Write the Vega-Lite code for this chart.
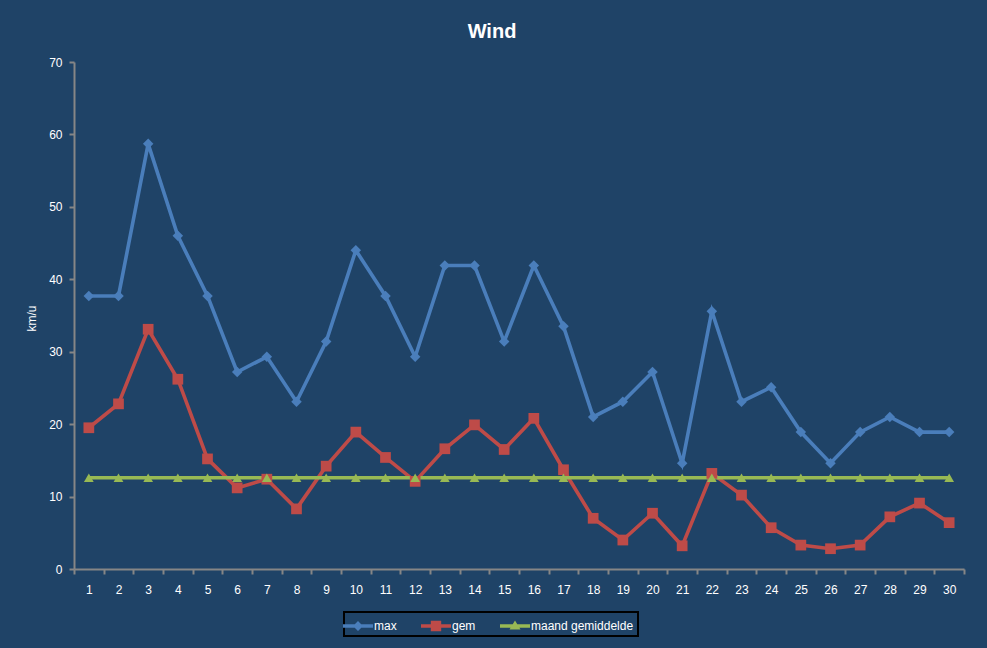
{
  "$schema": "https://vega.github.io/schema/vega-lite/v6.json",
  "width": 890,
  "height": 507,
  "autosize": {"type": "none"},
  "padding": {"left": 74, "top": 62, "right": 23, "bottom": 79},
  "background": "#1F4367",
  "title": {
    "text": "Wind",
    "color": "#FFFFFF",
    "font": "Liberation Sans",
    "fontSize": 20,
    "fontWeight": "bold",
    "anchor": "middle",
    "dx": -27,
    "offset": 14
  },
  "config": {
    "view": {"stroke": null},
    "axis": {
      "labelFont": "Liberation Sans",
      "labelFontSize": 12,
      "labelColor": "#FFFFFF",
      "domainColor": "#868686",
      "domainWidth": 2,
      "tickColor": "#868686",
      "tickWidth": 2,
      "grid": false,
      "titleColor": "#FFFFFF",
      "titleFont": "Liberation Sans",
      "titleFontSize": 12,
      "titleFontWeight": "normal"
    }
  },
  "data": {
    "values": [
      {"dag": 1, "reeks": "max", "kmu": 37.7},
      {"dag": 2, "reeks": "max", "kmu": 37.7},
      {"dag": 3, "reeks": "max", "kmu": 58.7},
      {"dag": 4, "reeks": "max", "kmu": 46.0},
      {"dag": 5, "reeks": "max", "kmu": 37.7},
      {"dag": 6, "reeks": "max", "kmu": 27.2},
      {"dag": 7, "reeks": "max", "kmu": 29.3},
      {"dag": 8, "reeks": "max", "kmu": 23.1},
      {"dag": 9, "reeks": "max", "kmu": 31.4},
      {"dag": 10, "reeks": "max", "kmu": 44.0},
      {"dag": 11, "reeks": "max", "kmu": 37.7},
      {"dag": 12, "reeks": "max", "kmu": 29.3},
      {"dag": 13, "reeks": "max", "kmu": 41.9},
      {"dag": 14, "reeks": "max", "kmu": 41.9},
      {"dag": 15, "reeks": "max", "kmu": 31.4},
      {"dag": 16, "reeks": "max", "kmu": 41.9},
      {"dag": 17, "reeks": "max", "kmu": 33.5},
      {"dag": 18, "reeks": "max", "kmu": 21.0},
      {"dag": 19, "reeks": "max", "kmu": 23.1},
      {"dag": 20, "reeks": "max", "kmu": 27.2},
      {"dag": 21, "reeks": "max", "kmu": 14.6},
      {"dag": 22, "reeks": "max", "kmu": 35.6},
      {"dag": 23, "reeks": "max", "kmu": 23.1},
      {"dag": 24, "reeks": "max", "kmu": 25.1},
      {"dag": 25, "reeks": "max", "kmu": 18.9},
      {"dag": 26, "reeks": "max", "kmu": 14.6},
      {"dag": 27, "reeks": "max", "kmu": 18.9},
      {"dag": 28, "reeks": "max", "kmu": 21.0},
      {"dag": 29, "reeks": "max", "kmu": 18.9},
      {"dag": 30, "reeks": "max", "kmu": 18.9},
      {"dag": 1, "reeks": "gem", "kmu": 19.5},
      {"dag": 2, "reeks": "gem", "kmu": 22.8},
      {"dag": 3, "reeks": "gem", "kmu": 33.1},
      {"dag": 4, "reeks": "gem", "kmu": 26.2},
      {"dag": 5, "reeks": "gem", "kmu": 15.2},
      {"dag": 6, "reeks": "gem", "kmu": 11.2},
      {"dag": 7, "reeks": "gem", "kmu": 12.4},
      {"dag": 8, "reeks": "gem", "kmu": 8.3},
      {"dag": 9, "reeks": "gem", "kmu": 14.2},
      {"dag": 10, "reeks": "gem", "kmu": 18.9},
      {"dag": 11, "reeks": "gem", "kmu": 15.4},
      {"dag": 12, "reeks": "gem", "kmu": 12.1},
      {"dag": 13, "reeks": "gem", "kmu": 16.6},
      {"dag": 14, "reeks": "gem", "kmu": 19.9},
      {"dag": 15, "reeks": "gem", "kmu": 16.5},
      {"dag": 16, "reeks": "gem", "kmu": 20.8},
      {"dag": 17, "reeks": "gem", "kmu": 13.7},
      {"dag": 18, "reeks": "gem", "kmu": 7.0},
      {"dag": 19, "reeks": "gem", "kmu": 4.0},
      {"dag": 20, "reeks": "gem", "kmu": 7.7},
      {"dag": 21, "reeks": "gem", "kmu": 3.2},
      {"dag": 22, "reeks": "gem", "kmu": 13.2},
      {"dag": 23, "reeks": "gem", "kmu": 10.2},
      {"dag": 24, "reeks": "gem", "kmu": 5.7},
      {"dag": 25, "reeks": "gem", "kmu": 3.3},
      {"dag": 26, "reeks": "gem", "kmu": 2.8},
      {"dag": 27, "reeks": "gem", "kmu": 3.3},
      {"dag": 28, "reeks": "gem", "kmu": 7.2},
      {"dag": 29, "reeks": "gem", "kmu": 9.1},
      {"dag": 30, "reeks": "gem", "kmu": 6.4},
      {"dag": 1, "reeks": "maand gemiddelde", "kmu": 12.6},
      {"dag": 2, "reeks": "maand gemiddelde", "kmu": 12.6},
      {"dag": 3, "reeks": "maand gemiddelde", "kmu": 12.6},
      {"dag": 4, "reeks": "maand gemiddelde", "kmu": 12.6},
      {"dag": 5, "reeks": "maand gemiddelde", "kmu": 12.6},
      {"dag": 6, "reeks": "maand gemiddelde", "kmu": 12.6},
      {"dag": 7, "reeks": "maand gemiddelde", "kmu": 12.6},
      {"dag": 8, "reeks": "maand gemiddelde", "kmu": 12.6},
      {"dag": 9, "reeks": "maand gemiddelde", "kmu": 12.6},
      {"dag": 10, "reeks": "maand gemiddelde", "kmu": 12.6},
      {"dag": 11, "reeks": "maand gemiddelde", "kmu": 12.6},
      {"dag": 12, "reeks": "maand gemiddelde", "kmu": 12.6},
      {"dag": 13, "reeks": "maand gemiddelde", "kmu": 12.6},
      {"dag": 14, "reeks": "maand gemiddelde", "kmu": 12.6},
      {"dag": 15, "reeks": "maand gemiddelde", "kmu": 12.6},
      {"dag": 16, "reeks": "maand gemiddelde", "kmu": 12.6},
      {"dag": 17, "reeks": "maand gemiddelde", "kmu": 12.6},
      {"dag": 18, "reeks": "maand gemiddelde", "kmu": 12.6},
      {"dag": 19, "reeks": "maand gemiddelde", "kmu": 12.6},
      {"dag": 20, "reeks": "maand gemiddelde", "kmu": 12.6},
      {"dag": 21, "reeks": "maand gemiddelde", "kmu": 12.6},
      {"dag": 22, "reeks": "maand gemiddelde", "kmu": 12.6},
      {"dag": 23, "reeks": "maand gemiddelde", "kmu": 12.6},
      {"dag": 24, "reeks": "maand gemiddelde", "kmu": 12.6},
      {"dag": 25, "reeks": "maand gemiddelde", "kmu": 12.6},
      {"dag": 26, "reeks": "maand gemiddelde", "kmu": 12.6},
      {"dag": 27, "reeks": "maand gemiddelde", "kmu": 12.6},
      {"dag": 28, "reeks": "maand gemiddelde", "kmu": 12.6},
      {"dag": 29, "reeks": "maand gemiddelde", "kmu": 12.6},
      {"dag": 30, "reeks": "maand gemiddelde", "kmu": 12.6}
    ]
  },
  "resolve": {"axis": {"x": "independent"}},
  "layer": [
    {
      "mark": {"type": "line", "strokeWidth": 3.6},
      "encoding": {
        "x": {
          "field": "dag",
          "type": "quantitative",
          "scale": {"domain": [0.5, 30.5], "nice": false, "zero": false},
          "axis": {
            "orient": "bottom",
            "title": null,
            "values": [1, 2, 3, 4, 5, 6, 7, 8, 9, 10, 11, 12, 13, 14, 15, 16, 17, 18, 19, 20, 21, 22, 23, 24, 25, 26, 27, 28, 29, 30],
            "ticks": false,
            "labelPadding": 15,
            "labelFlush": false,
            "labelOverlap": false
          }
        },
        "y": {
          "field": "kmu",
          "type": "quantitative",
          "scale": {"domain": [0, 70], "nice": false},
          "axis": {
            "title": "km/u",
            "values": [0, 10, 20, 30, 40, 50, 60, 70],
            "tickSize": 5,
            "labelPadding": 7,
            "titleX": -43,
            "titleY": 256,
            "titleBaseline": "middle"
          }
        },
        "color": {
          "field": "reeks",
          "type": "nominal",
          "scale": {
            "domain": ["max", "gem", "maand gemiddelde"],
            "range": ["#4A7EBB", "#BE4B48", "#98B954"]
          },
          "legend": {
            "orient": "none",
            "legendX": 270,
            "legendY": 550,
            "direction": "horizontal",
            "title": null,
            "strokeColor": "#000000",
            "padding": 4,
            "labelColor": "#FFFFFF",
            "labelFont": "Liberation Sans",
            "labelFontSize": 12,
            "symbolSize": 400,
            "labelOffset": 6,
            "columnPadding": 24,
            "encode": {
              "legend": {"update": {"strokeWidth": {"value": 2}}},
              "symbols": {
                "update": {
                  "shape": {
                    "signal": "datum.value === 'max' ? 'M-1.5,-0.18L1.5,-0.18L1.5,0.18L-1.5,0.18Z M0,-0.5L0.5,0L0,0.5L-0.5,0Z' : datum.value === 'gem' ? 'M-1.5,-0.18L1.5,-0.18L1.5,0.18L-1.5,0.18Z M-0.52,-0.52L0.52,-0.52L0.52,0.52L-0.52,0.52Z' : 'M-1.5,-0.18L1.5,-0.18L1.5,0.18L-1.5,0.18Z M0,-0.55L0.55,0.35L-0.55,0.35Z'"
                  },
                  "fill": {"scale": "color", "field": "value"},
                  "strokeWidth": {"value": 0}
                }
              }
            }
          }
        }
      }
    },
    {
      "transform": [{"filter": "datum.reeks === 'max'"}],
      "mark": {"type": "point", "shape": "diamond", "filled": true, "opacity": 1, "size": 110, "color": "#4A7EBB"},
      "encoding": {
        "x": {
          "field": "dag",
          "type": "quantitative",
          "axis": {
            "orient": "bottom",
            "title": null,
            "values": [0.5, 1.5, 2.5, 3.5, 4.5, 5.5, 6.5, 7.5, 8.5, 9.5, 10.5, 11.5, 12.5, 13.5, 14.5, 15.5, 16.5, 17.5, 18.5, 19.5, 20.5, 21.5, 22.5, 23.5, 24.5, 25.5, 26.5, 27.5, 28.5, 29.5, 30.5],
            "labels": false,
            "domain": false,
            "tickSize": 5
          }
        },
        "y": {"field": "kmu", "type": "quantitative"}
      }
    },
    {
      "transform": [{"filter": "datum.reeks === 'gem'"}],
      "mark": {"type": "point", "shape": "square", "filled": true, "opacity": 1, "size": 115, "color": "#BE4B48"},
      "encoding": {
        "x": {"field": "dag", "type": "quantitative", "axis": null},
        "y": {"field": "kmu", "type": "quantitative"}
      }
    },
    {
      "transform": [{"filter": "datum.reeks === 'maand gemiddelde'"}],
      "mark": {"type": "point", "shape": "triangle-up", "filled": true, "opacity": 1, "size": 95, "color": "#98B954"},
      "encoding": {
        "x": {"field": "dag", "type": "quantitative", "axis": null},
        "y": {"field": "kmu", "type": "quantitative"}
      }
    }
  ]
}
